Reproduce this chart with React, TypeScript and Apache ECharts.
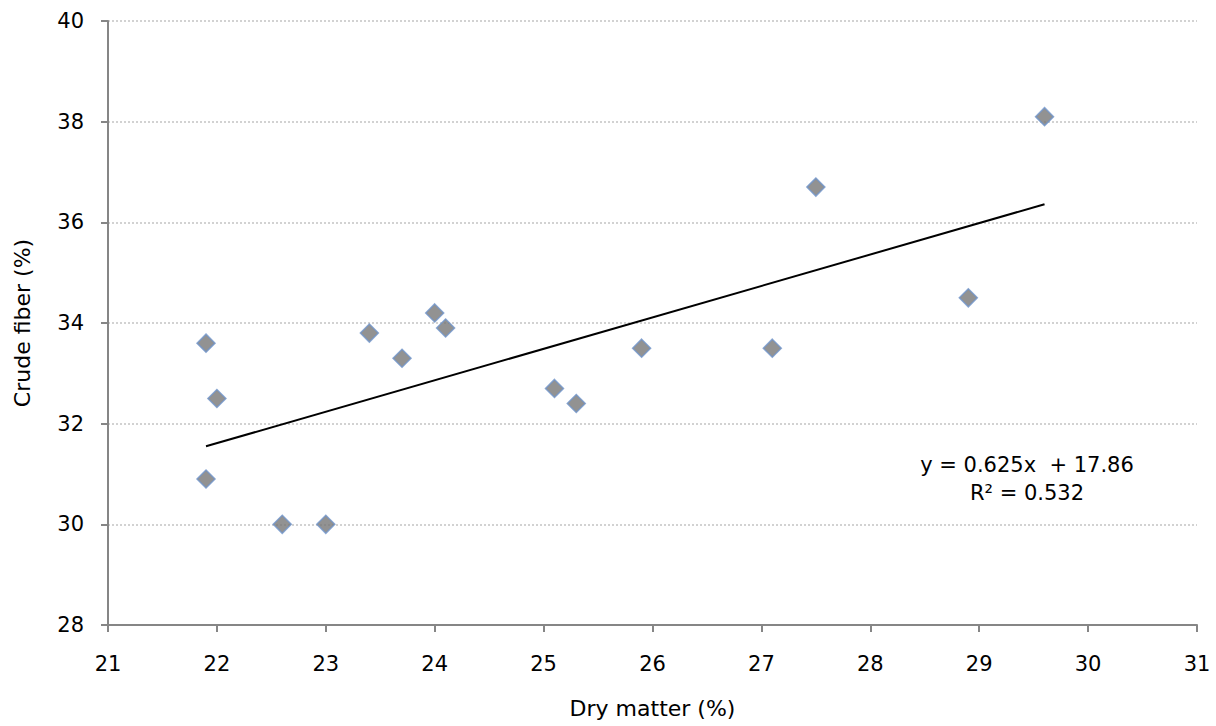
import React, { useEffect, useRef } from "react";
import * as echarts from "echarts";

const dryMatter = [21.9, 22.0, 21.9, 22.6, 23.0, 23.4, 23.7, 24.0, 24.1, 25.1, 25.3, 25.9, 27.1, 27.5, 28.9, 29.6];
const crudeFiber = [33.6, 32.5, 30.9, 30.0, 30.0, 33.8, 33.3, 34.2, 33.9, 32.7, 32.4, 33.5, 33.5, 36.7, 34.5, 38.1];
const trendX = [21.9, 29.6];
const trendY = [31.55, 36.36];
const equationLines = ["y = 0.625x  + 17.86", "R² = 0.532"];

const FONT = "'DejaVu Sans', 'Liberation Sans', Arial, sans-serif";

export default function App() {
  const ref = useRef<HTMLDivElement>(null);
  useEffect(() => {
    if (!ref.current) return;
    const chart = echarts.init(ref.current, undefined, { renderer: "svg" });
    chart.setOption({
      animation: false,
      backgroundColor: "#ffffff",
      grid: { left: 108, right: 19, top: 21, bottom: 101 },
      xAxis: {
        type: "value",
        min: 21,
        max: 31,
        interval: 1,
        name: "Dry matter (%)",
        nameLocation: "middle",
        nameGap: 83,
        nameTextStyle: { color: "#000", fontSize: 22, fontFamily: FONT, verticalAlign: "middle" },
        axisLine: { show: true, lineStyle: { color: "#868686", width: 2 } },
        axisTick: { show: true, inside: false, length: 7, lineStyle: { color: "#868686", width: 2 } },
        axisLabel: { color: "#000", fontSize: 21, fontFamily: FONT, margin: 28 },
        splitLine: { show: false },
      },
      yAxis: {
        type: "value",
        min: 28,
        max: 40,
        interval: 2,
        name: "Crude fiber (%)",
        nameLocation: "middle",
        nameGap: 86,
        nameTextStyle: { color: "#000", fontSize: 22, fontFamily: FONT, verticalAlign: "middle" },
        axisLine: { show: true, lineStyle: { color: "#868686", width: 2 } },
        axisTick: { show: true, inside: false, length: 7, lineStyle: { color: "#868686", width: 2 } },
        axisLabel: { color: "#000", fontSize: 21, fontFamily: FONT, margin: 24 },
        splitLine: { show: true, lineStyle: { color: "#c4c4c4", width: 1.5, type: [2, 2] } },
      },
      graphic: [
        {
          type: "text",
          x: 1027,
          y: 451,
          style: {
            text: equationLines.join("\n"),
            fill: "#000",
            fontSize: 21,
            fontFamily: FONT,
            align: "center",
            verticalAlign: "top",
            lineHeight: 28,
          },
        },
      ],
      series: [
        {
          type: "line",
          data: trendX.map((x, i) => [x, trendY[i]]),
          showSymbol: false,
          symbol: "none",
          lineStyle: { color: "#000", width: 2 },
          z: 2,
        },
        {
          type: "scatter",
          data: dryMatter.map((x, i) => [x, crudeFiber[i]]),
          symbol: "diamond",
          symbolSize: 18,
          itemStyle: { color: "#777777", borderColor: "#6f93c9", borderWidth: 1.5 },
          z: 3,
        },
      ],
    });
    return () => chart.dispose();
  }, []);
  return <div ref={ref} style={{ width: 1216, height: 726, position: "absolute", left: 0, top: 0 }} />;
}
